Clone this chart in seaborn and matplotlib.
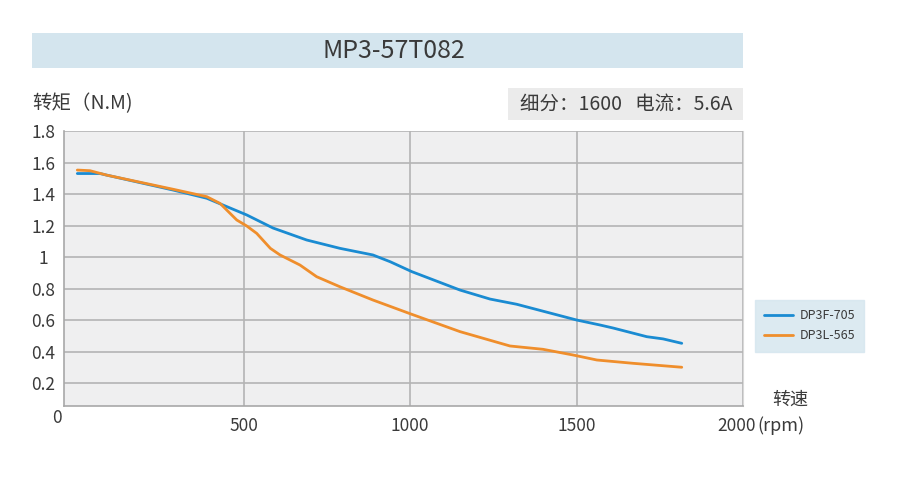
import matplotlib
matplotlib.use("Agg")
import matplotlib.pyplot as plt
import pandas as pd
import seaborn as sns
from matplotlib.patches import Rectangle
from matplotlib.transforms import ScaledTranslation

# torque curves
rpm_705 = [0, 68, 88, 288, 389, 509, 588, 689, 789, 888, 940, 1005, 1150, 1240, 1320, 1500, 1571, 1610, 1711, 1760, 1816]
torque_705 = [1.53, 1.53, 1.52, 1.425, 1.373, 1.267, 1.184, 1.108, 1.055, 1.013, 0.97, 0.907, 0.79, 0.733, 0.70, 0.60, 0.568, 0.549, 0.494, 0.48, 0.452]

rpm_565 = [0, 38, 88, 288, 389, 429, 459, 479, 509, 539, 580, 609, 669, 719, 789, 888, 1005, 1150, 1300, 1399, 1489, 1561, 1670, 1816]
torque_565 = [1.552, 1.548, 1.52, 1.43, 1.383, 1.34, 1.277, 1.235, 1.197, 1.15, 1.055, 1.013, 0.949, 0.875, 0.811, 0.727, 0.636, 0.526, 0.435, 0.414, 0.378, 0.346, 0.325, 0.30]

series_names = ["DP3F-705", "DP3L-565"]
series_colors = ["#1a8bd2", "#ef8e2c"]
y_ticks = [0.2, 0.4, 0.6, 0.8, 1.0, 1.2, 1.4, 1.6, 1.8]
y_labels = ["0.2", "0.4", "0.6", "0.8", "1", "1.2", "1.4", "1.6", "1.8"]
x_ticks = [500, 1000, 1500, 2000]

df = pd.concat([
    pd.DataFrame({"rpm": rpm_705, "torque": torque_705, "model": series_names[0]}),
    pd.DataFrame({"rpm": rpm_565, "torque": torque_565, "model": series_names[1]}),
])

sns.set_style("white")
plt.rcParams["font.family"] = ["Noto Sans CJK SC", "DejaVu Sans"]
txt = "#3a3a3a"

fig = plt.figure(figsize=(9, 4.86), dpi=100)
ax = fig.add_axes([64 / 900, 80 / 486, 679 / 900, 275 / 486])
ax.set_facecolor("#efeff0")

sns.lineplot(data=df, x="rpm", y="torque", hue="model", palette=series_colors,
             linewidth=2, ax=ax, sort=False, estimator=None, zorder=3)

ax.set_xlim(-40, 2000)
ax.set_ylim(0.054, 1.8)
ax.set_yticks(y_ticks)
ax.set_yticklabels(y_labels)
ax.set_xticks(x_ticks)
ax.grid(True, color="#b4b4b4", linewidth=1.2, zorder=0)
ax.set_axisbelow(True)
ax.tick_params(axis="both", length=0, labelsize=12.5, labelcolor=txt)
ax.tick_params(axis="y", pad=15)
ax.tick_params(axis="x", pad=8)
for lab in ax.get_yticklabels():
    lab.set_horizontalalignment("center")
# the 2000 label sits a little to the left to leave room for the unit
last = ax.get_xticklabels()[-1]
last.set_transform(last.get_transform() + ScaledTranslation(-6 / 100, 0, fig.dpi_scale_trans))
ax.set_xlabel("")
ax.set_ylabel("")
for side in ["left", "bottom"]:
    ax.spines[side].set_color("#a8a8a8")
    ax.spines[side].set_linewidth(1.2)
ax.spines["top"].set_visible(False)
ax.spines["right"].set_color("#d8d8d8")

leg = ax.legend(loc="upper left", bbox_to_anchor=(755 / 900, 1 - 300 / 486),
                bbox_transform=fig.transFigure, frameon=True, fontsize=9,
                handlelength=2.3, handletextpad=0.5, borderpad=0.75, labelspacing=0.55,
                borderaxespad=0, fancybox=False)
leg.get_frame().set_facecolor("#d4e5ee")
leg.get_frame().set_edgecolor("#d4e5ee")
for t in leg.get_texts():
    t.set_color(txt)

# title band and info box
fig.patches.append(Rectangle((32 / 900, 1 - 68 / 486), 711 / 900, 35 / 486,
                             transform=fig.transFigure, facecolor="#d4e5ee", edgecolor="none"))
fig.text(394 / 900, 1 - 51 / 486, "MP3-57T082", ha="center", va="center", fontsize=18, color=txt)
fig.patches.append(Rectangle((508 / 900, 1 - 120 / 486), 235 / 900, 32 / 486,
                             transform=fig.transFigure, facecolor="#ebebeb", edgecolor="none"))
fig.text(626 / 900, 1 - 104 / 486, "细分：1600   电流：5.6A", ha="center", va="center", fontsize=14, color=txt)
fig.text(32 / 900, 1 - 104 / 486, "转矩（N.M)", ha="left", va="center", fontsize=14, color=txt)
fig.text(57 / 900, 1 - 418 / 486, "0", ha="center", va="center", fontsize=12.5, color=txt)
fig.text(790 / 900, 1 - 400 / 486, "转速", ha="center", va="center", fontsize=13, color=txt)
fig.text(757 / 900, 1 - 426 / 486, "(rpm)", ha="left", va="center", fontsize=13, color=txt)

fig.savefig("out.png", dpi=100)
